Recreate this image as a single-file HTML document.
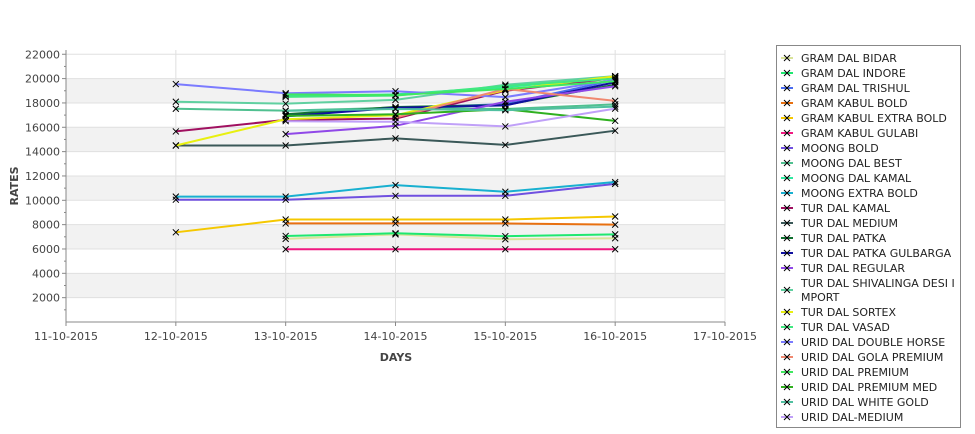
<!DOCTYPE html>
<html><head><meta charset="utf-8"><style>
body{margin:0;background:#fff;font-family:"Liberation Sans","DejaVu Sans",sans-serif}
svg text{font-family:"DejaVu Sans","Liberation Sans",sans-serif}
</style></head><body>
<svg id="c" width="975" height="429" xmlns="http://www.w3.org/2000/svg"></svg>
<script>
const categories=["11-10-2015","12-10-2015","13-10-2015","14-10-2015","15-10-2015","16-10-2015","17-10-2015"];
const yTicks=[2000,4000,6000,8000,10000,12000,14000,16000,18000,20000,22000];
const seriesNames=["GRAM DAL BIDAR","GRAM DAL INDORE","GRAM DAL TRISHUL","GRAM KABUL BOLD","GRAM KABUL EXTRA BOLD","GRAM KABUL GULABI","MOONG BOLD","MOONG DAL BEST","MOONG DAL KAMAL","MOONG EXTRA BOLD","TUR DAL KAMAL","TUR DAL MEDIUM","TUR DAL PATKA","TUR DAL PATKA GULBARGA","TUR DAL REGULAR","TUR DAL SHIVALINGA DESI IMPORT","TUR DAL SORTEX","TUR DAL VASAD","URID DAL DOUBLE HORSE","URID DAL GOLA PREMIUM","URID DAL PREMIUM","URID DAL PREMIUM MED","URID DAL WHITE GOLD","URID DAL-MEDIUM"];
const seriesColors=["#d9e39a","#1ee870","#4a6cf0","#e87010","#f5c800","#f01880","#7050e0","#50c090","#30e8a0","#18b0d0","#a01060","#3a5858","#107030","#1010a0","#9048e8","#60d0a0","#e8f010","#40e880","#7b7bff","#f08870","#40e860","#30b020","#50c0a0","#c0a0f8"];
// values indexed by categories 12..16 (null = no data)
const s0=[null,6830,7200,6800,6880];
const s1=[null,7070,7290,7050,7200];
const s2=[null,17000,17600,17900,19900];
const s3=[null,8100,8100,8100,8000];
const s4=[7370,8420,8420,8420,8670];
const s5=[null,5980,5980,5980,5980];
const s6=[10050,10050,10370,10370,11350];
const s7=[17520,17370,17600,17500,17880];
const s8=[null,18600,18700,19300,20100];
const s9=[10300,10300,11250,10700,11500];
const s10=[15660,16610,16710,19000,20050];
const s11=[14500,14500,15090,14550,15720];
const s12=[null,17070,17670,17830,19500];
const s13=[null,16900,17600,17800,19700];
const s14=[null,15440,16120,18100,19370];
const s15=[18100,17940,18250,19500,20200];
const s16=[14500,16660,16990,19050,20190];
const s17=[null,18500,18600,19400,20000];
const s18=[19550,18800,18960,18480,19900];
const s19=[null,null,16800,19150,18170];
const s20=[null,18700,18640,19150,19780];
const s21=[null,16940,17070,17480,16530];
const s22=[null,17350,17500,17400,17700];
const s23=[null,16500,16450,16070,17530];
const seriesValues=[s0,s1,s2,s3,s4,s5,s6,s7,s8,s9,s10,s11,s12,s13,s14,s15,s16,s17,s18,s19,s20,s21,s22,s23];
const NS="http://www.w3.org/2000/svg",svg=document.getElementById('c');
const L=66,R=725,T=50,B=322,YMAX=22350;
const x=i=>L+(R-L)*i/(categories.length-1);
const y=v=>B-(B-T)*v/YMAX;
function el(t,a,p){const e=document.createElementNS(NS,t);for(const k in a)e.setAttribute(k,a[k]);(p||svg).appendChild(e);return e;}
// bands
for(let v=2000;v<22000;v+=4000){const r=el('rect',{x:L,y:y(v+2000),width:R-L,height:y(v)-y(v+2000),fill:'#f2f2f2'});

}
yTicks.forEach(v=>{const g=el('line',{x1:L,x2:R,y1:y(v),y2:y(v),stroke:'#e0e0e0'});


const t=el('text',{x:L-6,y:y(v)+4,'text-anchor':'end','font-size':11,fill:'#444'});t.textContent=v;


el('line',{x1:L-4,x2:L,y1:y(v),y2:y(v),stroke:'#888'});});
for(let v=1000;v<22000;v+=2000)el('line',{x1:L-2,x2:L,y1:y(v),y2:y(v),stroke:'#888'});
categories.forEach((c,i)=>{const g=el('line',{x1:x(i),x2:x(i),y1:T,y2:B,stroke:'#e0e0e0'});


el('line',{x1:x(i),x2:x(i),y1:B,y2:B+4,stroke:'#888'});
const t=el('text',{x:x(i),y:B+18,'text-anchor':'middle','font-size':11,fill:'#444'});t.textContent=c;

});
el('line',{x1:L,x2:L,y1:T,y2:B,stroke:'#888'});el('line',{x1:L,x2:R,y1:B,y2:B,stroke:'#888'});
let t=el('text',{x:396,y:361,'text-anchor':'middle','font-size':11,'font-weight':'bold',fill:'#444'});t.textContent='DAYS';


t=el('text',{x:18,y:186,'text-anchor':'middle','font-size':11,'font-weight':'bold',fill:'#444',transform:'rotate(-90 18 186)'});t.textContent='RATES';


function cross(cx,cy,p){el('path',{d:`M${cx-3} ${cy-3}L${cx+3} ${cy+3}M${cx-3} ${cy+3}L${cx+3} ${cy-3}`,stroke:'#000','stroke-width':1},p);}
seriesValues.forEach((vals,si)=>{const g=el('g',{});


let pts=[];vals.forEach((v,j)=>{if(v!=null)pts.push([x(j+1),y(v)]);});
el('polyline',{points:pts.map(p=>p.join(',')).join(' '),fill:'none',stroke:seriesColors[si],'stroke-width':2},g);
pts.forEach(p=>cross(p[0],p[1],g));});
// legend
const lg=el('g',{});


el('rect',{x:776.5,y:45.5,width:184,height:382,fill:'#fff',stroke:'#888'},lg);
let ly=58;
seriesNames.forEach((n,i)=>{const e=el('g',{},lg);


const wrap=n.length>24;const cy=wrap?ly+7:ly;
el('line',{x1:781,x2:793,y1:cy,y2:cy,stroke:seriesColors[i],'stroke-width':2},e);cross(787,cy,e);
if(wrap){let a=el('text',{x:801,y:ly+4,'font-size':11,fill:'#222'},e);a.textContent='TUR DAL SHIVALINGA DESI I';
a=el('text',{x:801,y:ly+18,'font-size':11,fill:'#222'},e);a.textContent='MPORT';ly+=29;}
else{const a=el('text',{x:801,y:ly+4,'font-size':11,fill:'#222'},e);a.textContent=n;ly+=15;}});
</script></body></html>
